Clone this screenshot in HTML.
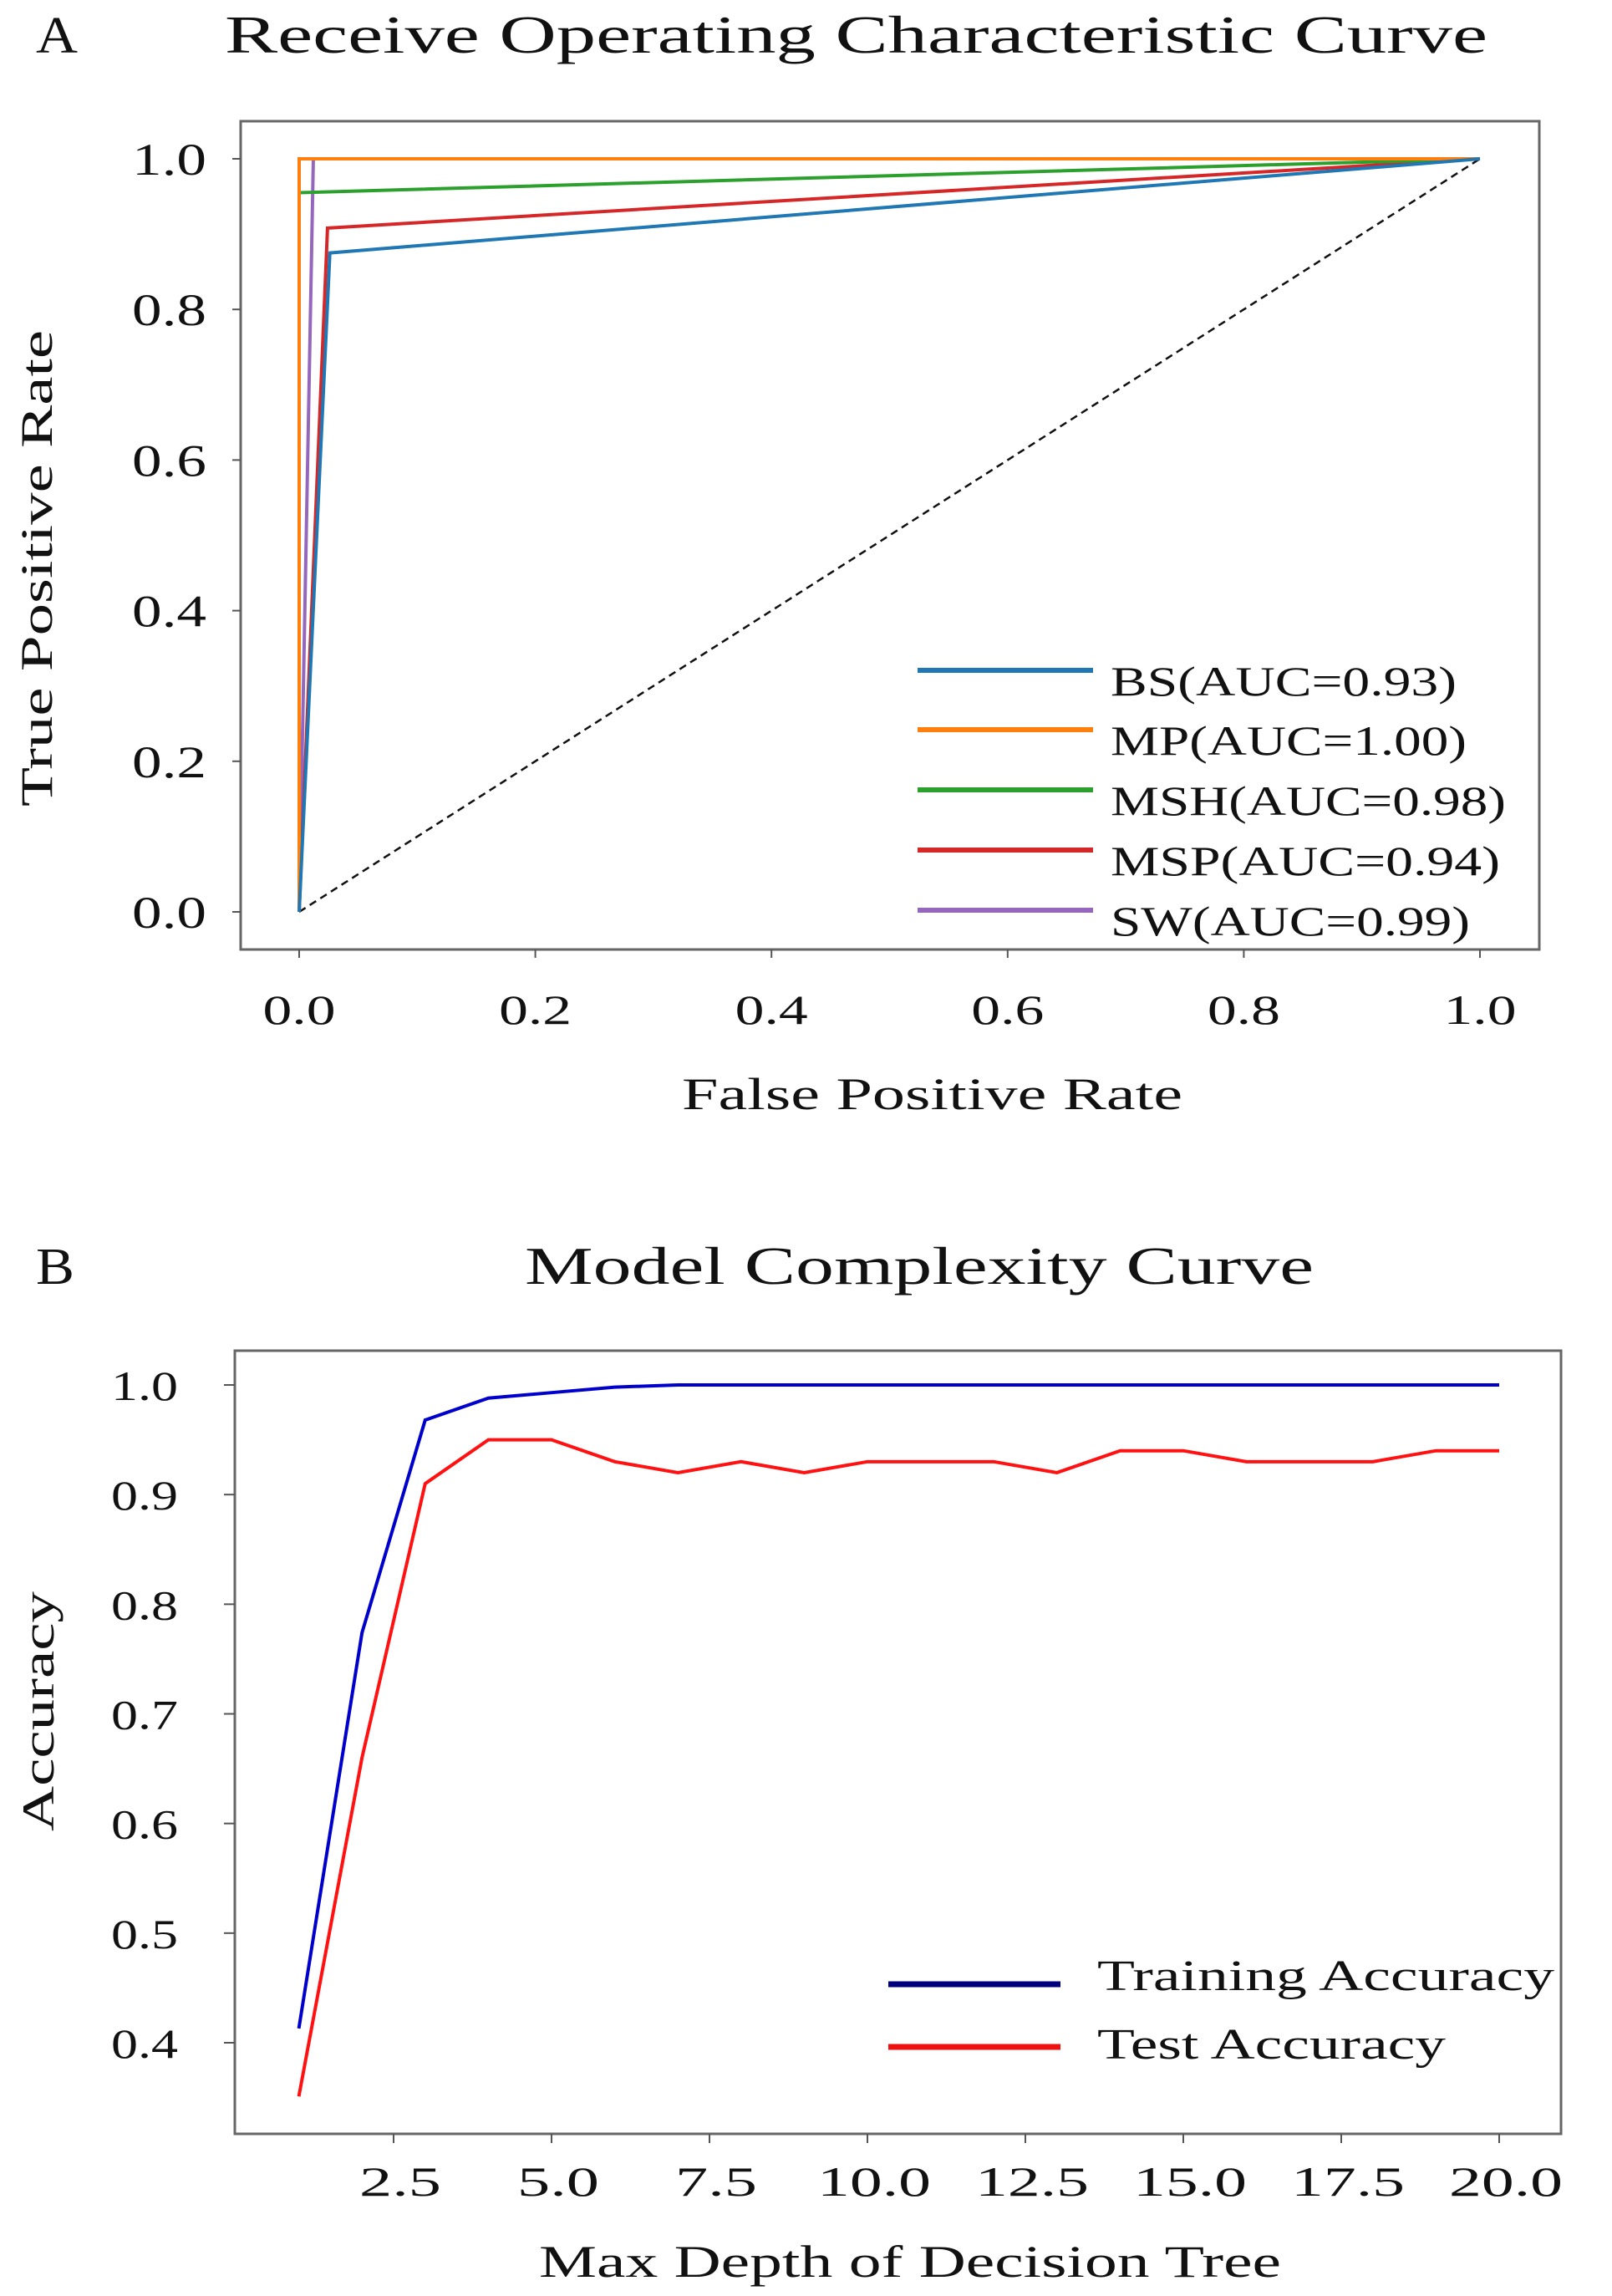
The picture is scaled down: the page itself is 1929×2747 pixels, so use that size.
<!DOCTYPE html>
<html><head><meta charset="utf-8"><style>
html,body{margin:0;padding:0;background:#fff;}
svg{display:block;font-family:"Liberation Serif",serif;}
</style></head>
<body>
<svg id="fig" width="1929" height="2747" viewBox="0 0 1929 2747">
<rect x="0" y="0" width="1929" height="2747" fill="#fff"/>
<g id="chartA"></g>
<g id="chartB"></g>
</svg>
<script>
// ===== Chart A data =====
const rocNames = ["BS(AUC=0.93)","MP(AUC=1.00)","MSH(AUC=0.98)","MSP(AUC=0.94)","SW(AUC=0.99)"];
const rocColors = ["#1f77b4","#ff7f0e","#2ca02c","#d62728","#9467bd"];
const rocFpr = [[0,0.026,1],[0,0,0.008,1],[0,0,1],[0,0.024,1],[0,0.012,1]];
const rocTpr = [[0,0.875,1],[0,1,1,1],[0,0.955,1],[0,0.908,1],[0,1,1]];
const rocTicks = [0,0.2,0.4,0.6,0.8,1.0];
const rocTickLabels = ["0.0","0.2","0.4","0.6","0.8","1.0"];
// ===== Chart B data =====
const depths = [1,2,3,4,5,6,7,8,9,10,11,12,13,14,15,16,17,18,19,20];
const trainAcc = [0.413,0.774,0.968,0.988,0.993,0.998,1.0,1.0,1.0,1.0,1.0,1.0,1.0,1.0,1.0,1.0,1.0,1.0,1.0,1.0];
const testAcc = [0.351,0.66,0.91,0.95,0.95,0.93,0.92,0.93,0.92,0.93,0.93,0.93,0.92,0.94,0.94,0.93,0.93,0.93,0.94,0.94];
const bXTicks = [2.5,5.0,7.5,10.0,12.5,15.0,17.5,20.0];
const bXTickLabels = ["2.5","5.0","7.5","10.0","12.5","15.0","17.5","20.0"];
const bYTicks = [0.4,0.5,0.6,0.7,0.8,0.9,1.0];
const bYTickLabels = ["0.4","0.5","0.6","0.7","0.8","0.9","1.0"];
const bSeriesNames = ["Training Accuracy","Test Accuracy"];

const NS="http://www.w3.org/2000/svg";
function mk(parent,tag,attrs){const e=document.createElementNS(NS,tag);for(const k in attrs)e.setAttribute(k,attrs[k]);parent.appendChild(e);return e;}
function txt(parent,str,x,y,size,len,anchor,rot){
  const t=mk(parent,"text",{x:x,y:y,"font-size":size,fill:"#111","text-anchor":anchor||"start"});
  if(len){t.setAttribute("textLength",len);t.setAttribute("lengthAdjust","spacingAndGlyphs");}
  if(rot)t.setAttribute("transform","rotate(-90 "+x+" "+y+")");
  t.textContent=str;return t;
}

// ===== Chart A =====
const A=document.getElementById("chartA");
const ax=v=>358+v*(1771-358);
const ay=v=>1091-v*(1091-190);
let t;
t=txt(A,"A",43,63,62,50);


t=txt(A,"Receive Operating Characteristic Curve",269,63,64,1511);


let r=mk(A,"rect",{x:288,y:145,width:1554,height:991,fill:"none",stroke:"#666","stroke-width":3});


rocTicks.forEach((v,i)=>{
  mk(A,"line",{x1:ax(v),y1:1136,x2:ax(v),y2:1146,stroke:"#555","stroke-width":2});
  let l=txt(A,rocTickLabels[i],ax(v),1225,50,87,"middle");
  
  
  mk(A,"line",{x1:278,y1:ay(v),x2:288,y2:ay(v),stroke:"#555","stroke-width":2});
  let m=txt(A,rocTickLabels[i],247,ay(v)+19,54,89,"end");
  
  
});
t=txt(A,"False Positive Rate",816,1327,54,599);


t=txt(A,"True Positive Rate",62,965,54,570,"start",true);


let d=mk(A,"line",{x1:ax(0),y1:ay(0),x2:ax(1),y2:ay(1),stroke:"#111","stroke-width":2.5,"stroke-dasharray":"9,6"});


for(let s=rocNames.length-1;s>=0;s--){
  const pts=rocFpr[s].map((f,i)=>ax(f)+","+ay(rocTpr[s][i])).join(" ");
  let p=mk(A,"polyline",{points:pts,fill:"none",stroke:rocColors[s],"stroke-width":4});
  
  
}
const legRows=[802,873,945,1017,1089];
const legW=[414,426,473,466,430];
rocNames.forEach((n,i)=>{
  let l=mk(A,"line",{x1:1098,y1:legRows[i],x2:1308,y2:legRows[i],stroke:rocColors[i],"stroke-width":6});
  
  
  let e=txt(A,n,1329,legRows[i]+30,50,legW[i]);
  
  
});

// ===== Chart B =====
const B=document.getElementById("chartB");
const bx=v=>471+(v-2.5)*(1794-471)/17.5;
const by=v=>2444-(v-0.4)*(2444-1657)/0.6;
t=txt(B,"B",43,1536,62,46);


t=txt(B,"Model Complexity Curve",628,1536,64,944);


r=mk(B,"rect",{x:281,y:1616,width:1587,height:937,fill:"none",stroke:"#666","stroke-width":3});


bXTicks.forEach((v,i)=>{
  mk(B,"line",{x1:bx(v),y1:2553,x2:bx(v),y2:2564,stroke:"#555","stroke-width":2});
  const w=bXTickLabels[i].length>3?136:98;
  let l=txt(B,bXTickLabels[i],bx(v)+8,2627,50,w,"middle");
  
  
});
bYTicks.forEach((v,i)=>{
  mk(B,"line",{x1:268,y1:by(v),x2:281,y2:by(v),stroke:"#555","stroke-width":2});
  let l=txt(B,bYTickLabels[i],213,by(v)+18,50,80,"end");
  
  
});
t=txt(B,"Max Depth of Decision Tree",645,2724,54,888);


t=txt(B,"Accuracy",64,2191,54,287,"start",true);


let p1=mk(B,"polyline",{points:depths.map((x,i)=>bx(x)+","+by(trainAcc[i])).join(" "),fill:"none",stroke:"#0000cc","stroke-width":4});


let p2=mk(B,"polyline",{points:depths.map((x,i)=>bx(x)+","+by(testAcc[i])).join(" "),fill:"none",stroke:"#ff1111","stroke-width":4});


const bLegY=[2374,2449], bLegC=["#00007f","#ee1111"], bLegW=[547,417], bLegB=[2381,2463];
bSeriesNames.forEach((n,i)=>{
  let l=mk(B,"line",{x1:1063,y1:bLegY[i],x2:1269,y2:bLegY[i],stroke:bLegC[i],"stroke-width":7});
  
  
  let e=txt(B,n,1313,bLegB[i],52,bLegW[i]);
  
  
});
</script>
</body></html>
